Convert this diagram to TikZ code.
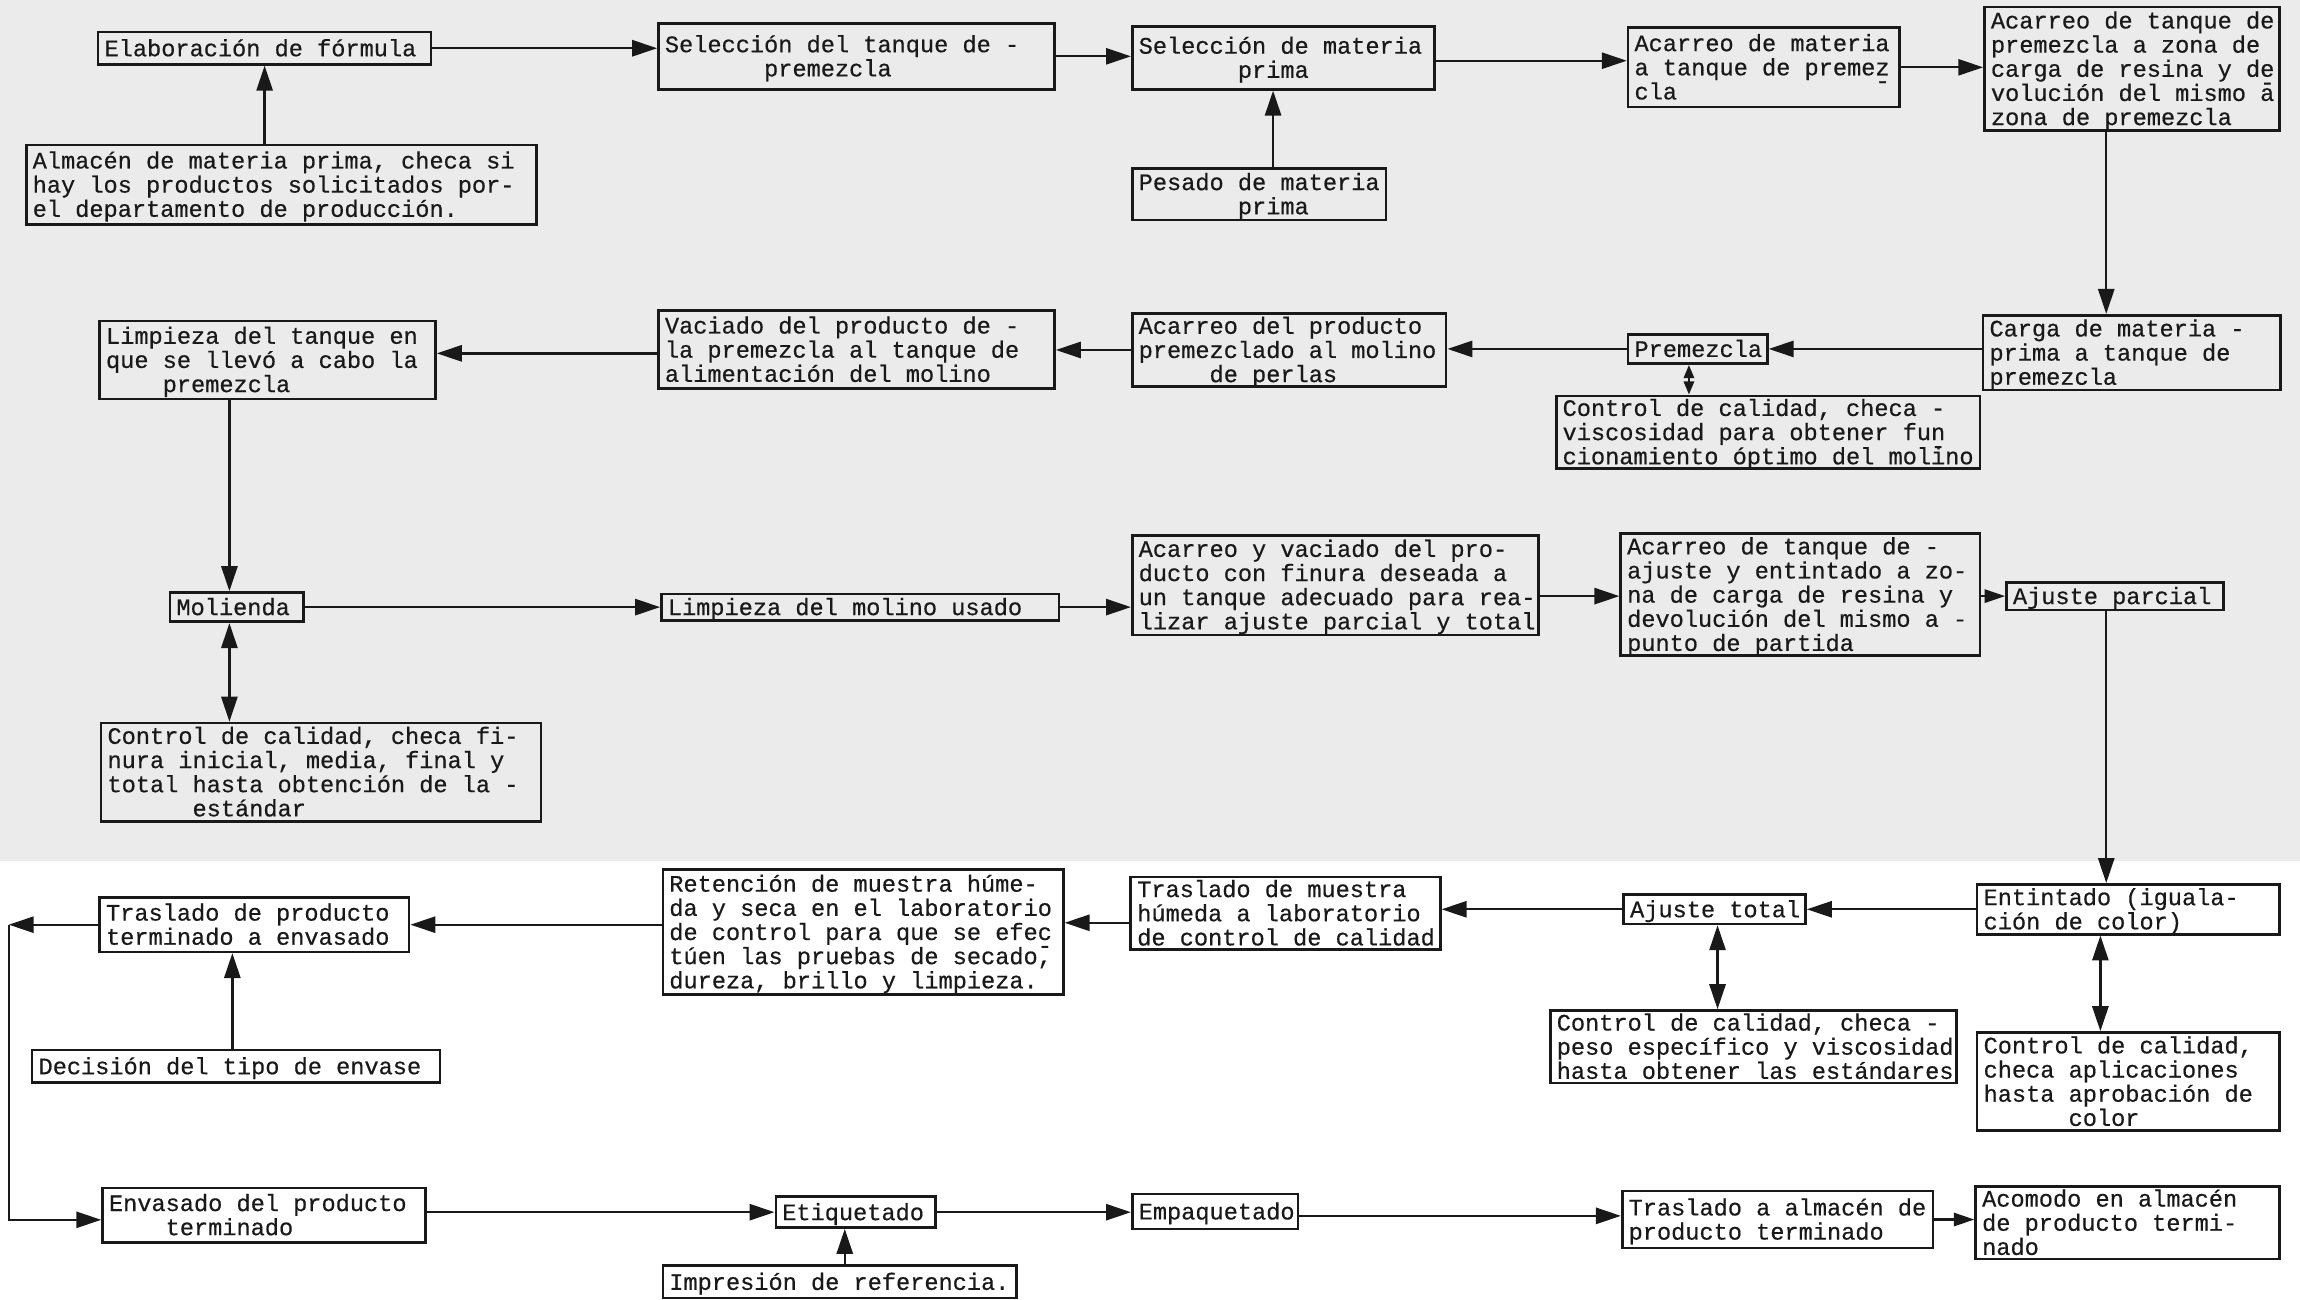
\documentclass[tikz,border=0pt]{standalone}
\usepackage{fontspec}
\usetikzlibrary{arrows.meta}
\newfontfamily\tw[FakeBold=0.5]{Liberation Mono}
\definecolor{scan}{RGB}{235,235,235}
\definecolor{ink}{RGB}{25,25,25}
\newcommand\ind[1]{\hspace*{\dimexpr #1em*6/10\relax}}
\newcommand\undash{\llap{\smash{\raisebox{-4.5pt}{-}}}}
\newcommand\bx[6]{%
  \pgfmathsetlengthmacro\bxw{(#4-#2)*0.5pt}%
  \pgfmathsetlengthmacro\bxh{(#5-#3)*0.5pt}%
  \pgfmathsetlengthmacro\bxt{(#4-#2)*0.5pt-4.4pt}%
  \node[box,minimum width=\bxw,minimum height=\bxh] (#1) at (#2,#3)
    {\raisebox{-1pt}[\height][\depth]{\makebox[\bxt][l]{\begin{tabular}{@{}l@{}}#6\end{tabular}}}};}
\tikzset{
  box/.style={draw=ink, line width=0.9pt, inner xsep=2.2pt, inner ysep=0pt,
    anchor=north west, text=ink, font=\tw\fontsize{8.05}{8}\selectfont},
  arr/.style={draw=ink, line width=0.8pt, -{Triangle[length=8.5pt,width=5.5pt]}},
  arrs/.style={draw=ink, line width=0.8pt, -{Triangle[length=7pt,width=4.5pt]}},
  dbl/.style={draw=ink, line width=0.8pt, {Triangle[length=8.5pt,width=5.5pt]}-{Triangle[length=8.5pt,width=5.5pt]}},
  dbls/.style={draw=ink, line width=0.8pt, {Triangle[length=4.5pt,width=3.5pt]}-{Triangle[length=4.5pt,width=3.5pt]}},
}
\begin{document}
\begin{tikzpicture}[x=0.5pt,y=-0.5pt]
\useasboundingbox (0,0) rectangle (1568,886);
\fill[white] (0,0) rectangle (1568,886);
\fill[scan] (0,0) rectangle (1568,587);

% row 1
\bx{elab}{66}{21}{293}{43}{Elaboración de fórmula}
\bx{seltan}{448}{15}{718}{60}{Selección del tanque de -\\\ind{7}premezcla}
\bx{selmat}{771}{17}{977}{60}{Selección de materia\\\ind{7}prima}
\bx{acmat}{1109}{18}{1294}{72}{Acarreo de materia\\a tanque de premez\undash\\cla}
\bx{actan}{1352}{4}{1553}{88}{Acarreo de tanque de\\premezcla a zona de\\carga de resina y de\undash\\volución del mismo a\\zona de premezcla}
\bx{alm}{17}{98}{365}{152}{Almacén de materia prima, checa si\\hay los productos solicitados por-\\el departamento de producción.}
\bx{pes}{771}{114}{944}{149}{Pesado de materia\\\ind{7}prima}

% row 2
\bx{carga}{1351}{214}{1554}{265}{Carga de materia -\\prima a tanque de\\premezcla}
\bx{prem}{1109}{227}{1204}{247}{Premezcla}
\bx{ctrlp}{1060}{269}{1349}{318}{Control de calidad, checa -\\viscosidad para obtener fun\undash\\cionamiento óptimo del molino}
\bx{acprod}{771}{213}{985}{260}{Acarreo del producto\\premezclado al molino\\\ind{5}de perlas}
\bx{vac}{448}{211}{718}{264}{Vaciado del producto de -\\la premezcla al tanque de\\alimentación del molino}
\bx{limp}{67}{218}{296}{271}{Limpieza del tanque en\\que se llevó a cabo la\\\ind{4}premezcla}

% row 3
\bx{mol}{115}{403}{206}{423}{Molienda}
\bx{ctrlm}{68}{492}{368}{559}{Control de calidad, checa fi-\\nura inicial, media, final y\\total hasta obtención de la -\\\ind{6}estándar}
\bx{limmol}{450}{404}{721}{422}{Limpieza del molino usado}
\bx{acyv}{771}{364}{1048}{432}{Acarreo y vaciado del pro-\\ducto con finura deseada a\\un tanque adecuado para rea-\\lizar ajuste parcial y total}
\bx{actaj}{1104}{363}{1349}{446}{Acarreo de tanque de -\\ajuste y entintado a zo-\\na de carga de resina y\\devolución del mismo a -\\punto de partida}
\bx{ajp}{1367}{396}{1515}{415}{Ajuste parcial}

% row 4
\bx{ent}{1347}{602}{1553}{636}{Entintado (iguala-\\ción de color)}
\bx{ctrlc}{1347}{703}{1553}{770}{Control de calidad,\\checa aplicaciones\\hasta aprobación de\\\ind{6}color}
\bx{ajt}{1106}{609}{1230}{629}{Ajuste total}
\bx{ctrlpe}{1056}{688}{1333}{737}{Control de calidad, checa -\\peso específico y viscosidad\\hasta obtener las estándares}
\bx{trasm}{770}{597}{981}{646}{Traslado de muestra\\húmeda a laboratorio\\de control de calidad}
\bx{ret}{451}{592}{724}{677}{Retención de muestra húme-\\da y seca en el laboratorio\\de control para que se efec\undash\\túen las pruebas de secado,\\dureza, brillo y limpieza.}
\bx{trasprod}{67}{611}{278}{648}{Traslado de producto\\terminado a envasado}
\bx{dec}{21}{715}{299}{737}{Decisión del tipo de envase}

% row 5
\bx{env}{69}{809}{289}{846}{Envasado del producto\\\ind{4}terminado}
\bx{etiq}{528}{815}{637}{836}{Etiquetado}
\bx{imp}{451}{862}{692}{884}{Impresión de referencia.}
\bx{empq}{771}{813}{884}{837}{Empaquetado}
\bx{trasalm}{1105}{811}{1317}{850}{Traslado a almacén de\\producto terminado}
\bx{acom}{1346}{808}{1553}{857}{Acomodo en almacén\\de producto termi-\\nado}

% connectors row 1
\draw[arr] (elab.east) -- (elab.east -| seltan.west);
\draw[arr] (alm.north -| elab.south) -- (elab.south);
\draw[arr] (seltan.east) -- (seltan.east -| selmat.west);
\draw[arr] ([xshift=-3.5pt]selmat.south |- pes.north) -- ([xshift=-3.5pt]selmat.south);
\draw[arr] ([yshift=-1pt]selmat.east) -- ([yshift=-1pt]selmat.east -| acmat.west);
\draw[arr] (acmat.east) -- (acmat.east -| actan.west);
\draw[arr] ([xshift=-8.75pt]actan.south) -- ([xshift=-8.75pt]actan.south |- carga.north);

% row 2
\draw[arr] (carga.west |- prem.east) -- (prem.east);
\draw[arr] (prem.west) -- (prem.west -| acprod.east);
\draw[arr] (acprod.west) -- (acprod.west -| vac.east);
\draw[arr] ([yshift=-1.25pt]vac.west) -- ([yshift=-1.25pt]vac.west -| limp.east);
\draw[dbls] ([xshift=-3pt]prem.south) -- ([xshift=-3pt]prem.south |- ctrlp.north);
\draw[arr] ([xshift=-2.5pt]mol.north |- limp.south) -- ([xshift=-2.5pt]mol.north);

% row 3
\draw[dbl] ([xshift=-2.5pt]mol.south) -- ([xshift=-2.5pt]mol.south |- ctrlm.north);
\draw[arr] (mol.east) -- (mol.east -| limmol.west);
\draw[arr] (limmol.east) -- (limmol.east -| acyv.west);
\draw[arr] (acyv.east |- ajp.west) -- (actaj.west |- ajp.west);
\draw[arrs] (actaj.east |- ajp.west) -- (ajp.west);
\draw[arr] ([xshift=-3pt]ajp.south) -- ([xshift=-3pt]ajp.south |- ent.north);

% row 4
\draw[arr] (ent.west |- ajt.east) -- (ajt.east);
\draw[dbl] ([xshift=-9.5pt]ent.south) -- ([xshift=-9.5pt]ent.south |- ctrlc.north);
\draw[arr] (ajt.west) -- (ajt.west -| trasm.east);
\draw[dbl] ([xshift=1pt]ajt.south) -- ([xshift=1pt]ajt.south |- ctrlpe.north);
\draw[arr] ([yshift=-3.25pt]trasm.west) -- ([yshift=-3.25pt]trasm.west -| ret.east);
\draw[arr] (ret.west |- trasprod.east) -- (trasprod.east);
\draw[arr] ([xshift=-7.5pt]trasprod.south |- dec.north) -- ([xshift=-7.5pt]trasprod.south);
\path (trasprod.west) ++(-61,0) coordinate (lc);
\draw[arr] (trasprod.west) -- (lc);
\draw[arr] (lc) |- ([yshift=-1.6pt]env.west);

% row 5
\draw[arr] (env.east |- etiq.west) -- (etiq.west);
\draw[arr] ([xshift=-3.75pt]etiq.south |- imp.north) -- ([xshift=-3.75pt]etiq.south);
\draw[arr] (etiq.east) -- (etiq.east -| empq.west);
\draw[arr] ([yshift=-1.5pt]empq.east) -- ([yshift=-1.5pt]empq.east -| trasalm.west);
\draw[arrs] (trasalm.east) -- (trasalm.east -| acom.west);
\end{tikzpicture}
\end{document}
